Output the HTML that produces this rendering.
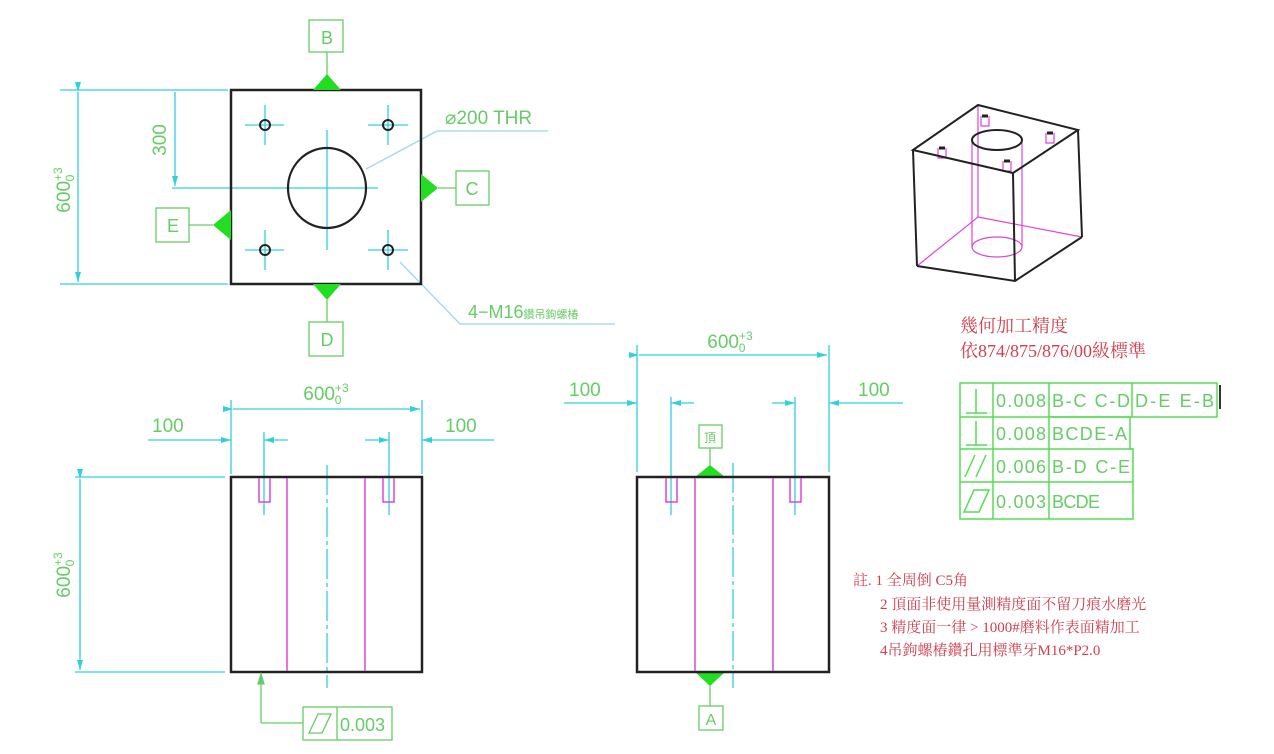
<!DOCTYPE html>
<html><head><meta charset="utf-8"><style>
html,body{margin:0;padding:0;background:#fff}
svg{display:block}
.t{font-family:"Liberation Sans",sans-serif;fill:#66cc66}
.r{font-family:"Liberation Serif","Noto Serif CJK SC","Noto Sans CJK TC",serif;fill:#d04050}
</style></head><body>
<svg width="1274" height="754" viewBox="0 0 1274 754" xmlns="http://www.w3.org/2000/svg">
<defs>
<marker id="a" markerWidth="10" markerHeight="6" refX="10" refY="3" orient="auto" markerUnits="userSpaceOnUse"><path d="M0,0 L10,3 L0,6z" fill="#30d0dc"/></marker>
</defs>
<!-- TOP VIEW -->
<g stroke="#30d0dc" stroke-width="1.3" fill="none">
<line x1="60" y1="90" x2="228" y2="90"/><line x1="60" y1="284" x2="228" y2="284"/>
<line x1="78" y1="92" x2="78" y2="282" marker-start="url(#a)" marker-end="url(#a)"/>
<line x1="175" y1="92" x2="175" y2="186" marker-end="url(#a)"/>
<line x1="172" y1="188" x2="378" y2="188"/>
<line x1="327" y1="130" x2="327" y2="250"/>
<g><line x1="245" y1="125" x2="284" y2="125"/><line x1="265" y1="105" x2="265" y2="145"/>
<line x1="368" y1="125" x2="408" y2="125"/><line x1="388" y1="105" x2="388" y2="145"/>
<line x1="245" y1="250" x2="284" y2="250"/><line x1="265" y1="230" x2="265" y2="270"/>
<line x1="368" y1="250" x2="408" y2="250"/><line x1="388" y1="230" x2="388" y2="270"/></g>
<polyline points="548,131 437,131 366,169" stroke="#9ed8e8"/>
<polyline points="615,324 460,324 400,262" stroke="#9ed8e8"/>
</g>
<rect x="231" y="90" width="190" height="194" fill="none" stroke="#222" stroke-width="2.5"/>
<ellipse cx="327" cy="188" rx="39" ry="40" fill="none" stroke="#222" stroke-width="2.2"/>
<g fill="none" stroke="#222" stroke-width="2"><circle cx="265" cy="125" r="5"/><circle cx="388" cy="125" r="5"/><circle cx="265" cy="250" r="5"/><circle cx="388" cy="250" r="5"/></g>
<g fill="#22dd22">
<path d="M313,90 L327,74 L341,90z"/><path d="M313,284 L327,300 L341,284z"/>
<path d="M421,174 L438,188 L421,202z"/><path d="M231,210 L213,225 L231,240z"/>
<path d="M695,477 L710,465 L725,477z"/><path d="M695,672 L710,686 L725,672z"/>
</g>
<g stroke="#66cc66" stroke-width="1.3" fill="none">
<rect x="309" y="20" width="34" height="32"/><line x1="327" y1="52" x2="327" y2="75"/>
<rect x="309" y="322" width="34" height="34"/><line x1="327" y1="300" x2="327" y2="322"/>
<rect x="456" y="171" width="33" height="34"/><line x1="438" y1="188" x2="456" y2="188"/>
<rect x="156" y="208" width="33" height="34"/><line x1="189" y1="225" x2="213" y2="225"/>
<rect x="699" y="425" width="23" height="23"/><line x1="710" y1="448" x2="710" y2="466"/>
<rect x="699" y="706" width="24" height="24"/><line x1="710" y1="686" x2="710" y2="706"/>
</g>
<text class="t" x="327" y="44" font-size="18" text-anchor="middle">B</text>
<text class="t" x="327" y="346" font-size="18" text-anchor="middle">D</text>
<text class="t" x="472" y="195" font-size="18" text-anchor="middle">C</text>
<text class="t" x="173" y="232" font-size="18" text-anchor="middle">E</text>
<text class="t" x="710" y="442" font-size="12" text-anchor="middle" font-family="Noto Sans CJK TC">頂</text>
<text class="t" x="711" y="725" font-size="16" text-anchor="middle">A</text>
<text class="t" transform="translate(70,190) rotate(-90)" font-size="19" text-anchor="middle">600<tspan font-size="12" dy="-8">+3</tspan><tspan font-size="12" dx="-14" dy="12">0</tspan></text>
<text class="t" transform="translate(166,140) rotate(-90)" font-size="19" text-anchor="middle">300</text>
<text class="t" x="445" y="124" font-size="19">⌀200 THR</text>
<text class="t" x="468" y="318" font-size="18">4−M16<tspan font-size="11" font-family="Noto Sans CJK TC">鑽吊鉤螺椿</tspan></text>

<!-- FRONT VIEW LEFT -->
<g stroke="#30d0dc" stroke-width="1.3" fill="none">
<line x1="231" y1="400" x2="231" y2="474"/><line x1="422" y1="400" x2="422" y2="474"/>
<line x1="233" y1="409" x2="420" y2="409" marker-start="url(#a)" marker-end="url(#a)"/>
<line x1="148" y1="440" x2="231" y2="440" marker-end="url(#a)"/><line x1="288" y1="440" x2="264" y2="440" marker-end="url(#a)"/>
<line x1="365" y1="440" x2="389" y2="440" marker-end="url(#a)"/><line x1="494" y1="440" x2="422" y2="440" marker-end="url(#a)"/>
<line x1="264" y1="432" x2="264" y2="515"/><line x1="389" y1="432" x2="389" y2="515"/>
<line x1="327" y1="465" x2="327" y2="688" stroke-dasharray="30,4,4,4"/>
<line x1="75" y1="477" x2="225" y2="477"/><line x1="75" y1="672" x2="225" y2="672"/>
<line x1="80" y1="479" x2="80" y2="670" marker-start="url(#a)" marker-end="url(#a)"/>
</g>
<rect x="231" y="477" width="191" height="195" fill="none" stroke="#222" stroke-width="2.5"/>
<g stroke="#dd44dd" stroke-width="1.5" fill="none">
<line x1="287" y1="478" x2="287" y2="671"/><line x1="365" y1="478" x2="365" y2="671"/>
<path d="M259,478 V502 H270 V478"/><path d="M383,478 V502 H394 V478"/>
</g>
<text class="t" x="326" y="400" font-size="19" text-anchor="middle">600<tspan font-size="12" dy="-8">+3</tspan><tspan font-size="12" dx="-14" dy="12">0</tspan></text>
<text class="t" x="152" y="432" font-size="19">100</text>
<text class="t" x="445" y="432" font-size="19">100</text>
<text class="t" transform="translate(70,575) rotate(-90)" font-size="19" text-anchor="middle">600<tspan font-size="12" dy="-8">+3</tspan><tspan font-size="12" dx="-14" dy="12">0</tspan></text>
<g stroke="#66cc66" stroke-width="1.3" fill="none">
<line x1="261" y1="723" x2="261" y2="676"/><path d="M258,684 L261,674 L264,684z" fill="#66cc66"/>
<line x1="261" y1="723" x2="303" y2="723"/>
<rect x="303" y="707" width="89" height="33"/><line x1="337" y1="707" x2="337" y2="740"/>
<path d="M309,733 L318,714 L331,714 L322,733z"/>
</g>
<text class="t" x="340" y="731" font-size="18">0.003</text>

<!-- FRONT VIEW RIGHT -->
<g stroke="#30d0dc" stroke-width="1.3" fill="none">
<line x1="637" y1="345" x2="637" y2="472"/><line x1="829" y1="345" x2="829" y2="472"/>
<line x1="639" y1="355" x2="827" y2="355" marker-start="url(#a)" marker-end="url(#a)"/>
<line x1="564" y1="403" x2="637" y2="403" marker-end="url(#a)"/><line x1="694" y1="403" x2="671" y2="403" marker-end="url(#a)"/>
<line x1="772" y1="403" x2="795" y2="403" marker-end="url(#a)"/><line x1="903" y1="403" x2="829" y2="403" marker-end="url(#a)"/>
<line x1="671" y1="397" x2="671" y2="515"/><line x1="795" y1="397" x2="795" y2="515"/>
<line x1="733" y1="463" x2="733" y2="688" stroke-dasharray="30,4,4,4"/>
</g>
<rect x="637" y="477" width="192" height="195" fill="none" stroke="#222" stroke-width="2.5"/>
<g stroke="#dd44dd" stroke-width="1.5" fill="none">
<line x1="695" y1="478" x2="695" y2="671"/><line x1="773" y1="478" x2="773" y2="671"/>
<path d="M666,478 V502 H677 V478"/><path d="M790,478 V502 H801 V478"/>
</g>
<text class="t" x="730" y="348" font-size="19" text-anchor="middle">600<tspan font-size="12" dy="-8">+3</tspan><tspan font-size="12" dx="-14" dy="12">0</tspan></text>
<text class="t" x="569" y="396" font-size="19">100</text>
<text class="t" x="858" y="396" font-size="19">100</text>

<!-- 3D -->
<g fill="none" stroke-width="1.2">
<g stroke="#dd44dd">
<polyline points="917,266 978,217 1082,237"/><line x1="978" y1="105" x2="978" y2="217"/>
<line x1="972" y1="140" x2="972" y2="247"/><line x1="1022" y1="140" x2="1022" y2="247"/>
<ellipse cx="997" cy="247" rx="25" ry="10"/>
<path d="M938,148 v10 h8 v-10 M981,116 v10 h8 v-10 M1046,133 v10 h8 v-10 M1003,161 v10 h8 v-10"/>
</g>
<g stroke="#222" stroke-width="2">
<polygon points="913,150 978,105 1078,130 1013,173"/>
<line x1="913" y1="150" x2="917" y2="266"/><line x1="1013" y1="173" x2="1015" y2="281"/><line x1="1078" y1="130" x2="1082" y2="237"/>
<polyline points="917,266 1015,281 1082,237"/>
<ellipse cx="997" cy="140" rx="25" ry="10"/>
<path d="M939,148h6 M982,116h6 M1047,133h6 M1004,161h6" stroke-width="3"/>
</g>
</g>

<!-- RIGHT TEXT -->
<text class="r" x="960" y="332" font-size="18">幾何加工精度</text>
<text class="r" x="960" y="357" font-size="18">依874/875/876/00級標準</text>
<g stroke="#55dd55" stroke-width="1.5" fill="none">
<rect x="960" y="383" width="257" height="34"/>
<line x1="993" y1="383" x2="993" y2="519"/><line x1="1049" y1="383" x2="1049" y2="519"/><line x1="1132" y1="383" x2="1132" y2="417"/>
<polyline points="960,417 960,519 1133,519 1133,449 1130,449 1130,417 1049,417"/>
<line x1="960" y1="449" x2="1133" y2="449"/><line x1="960" y1="482" x2="1133" y2="482"/>
<line x1="976" y1="389" x2="976" y2="413"/><line x1="966" y1="413" x2="987" y2="413"/>
<line x1="976" y1="421" x2="976" y2="445"/><line x1="966" y1="445" x2="987" y2="445"/>
<line x1="965" y1="477" x2="975" y2="455"/><line x1="976" y1="477" x2="986" y2="455"/>
<path d="M964,512 L974,490 L989,490 L979,512z"/>
</g>
<line x1="1220" y1="385" x2="1220" y2="409" stroke="#333" stroke-width="2"/>
<g class="t" font-size="18">
<text x="996" y="407" textLength="50">0.008</text><text x="1052" y="407" textLength="78">B-C C-D</text><text x="1135" y="407" textLength="79">D-E E-B</text>
<text x="996" y="440" textLength="50">0.008</text><text x="1052" y="440" textLength="75">BCDE-A</text>
<text x="996" y="473" textLength="50">0.006</text><text x="1052" y="473" textLength="78">B-D C-E</text>
<text x="996" y="508" textLength="50">0.003</text><text x="1052" y="508" textLength="48">BCDE</text>
</g>
<g class="r" font-size="15">
<text x="853" y="585">註. 1 全周倒 C5角</text>
<text x="880" y="609">2 頂面非使用量測精度面不留刀痕水磨光</text>
<text x="880" y="632">3 精度面一律 &gt; 1000#磨料作表面精加工</text>
<text x="880" y="655">4吊鉤螺椿鑽孔用標準牙M16*P2.0</text>
</g>
</svg>
</body></html>
